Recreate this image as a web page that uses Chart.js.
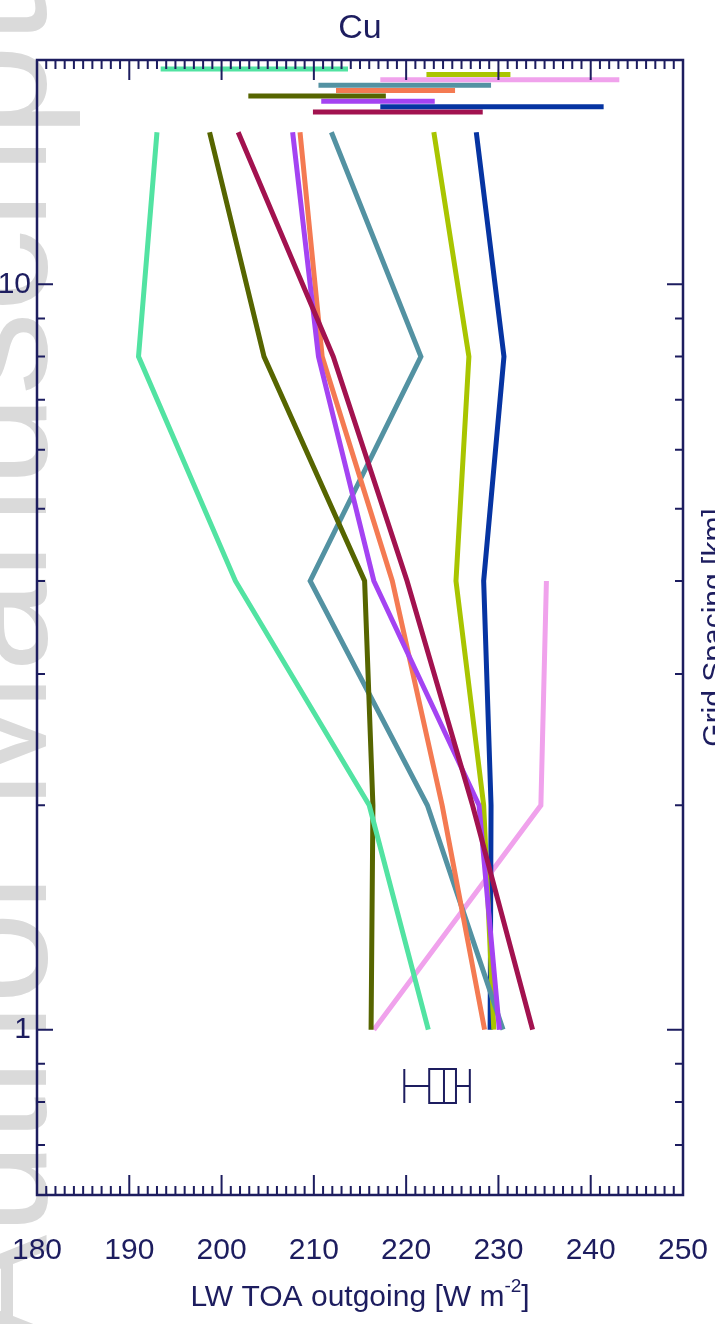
<!DOCTYPE html>
<html>
<head>
<meta charset="utf-8">
<script src="https://cdn.jsdelivr.net/npm/chart.js@4.4.1/dist/chart.umd.min.js"></script>
<style>
  html, body { margin: 0; padding: 0; background: #fff; }
</style>
</head>
<body>
<canvas id="chart" width="715" height="1324"></canvas>
<script>
// grid spacing levels (km) and LW TOA outgoing per model (W m-2)
const gridSpacing = [16, 8, 4, 2, 1];
const modelColors = ['#52e3a2', '#566500', '#a2124f', '#a443f2', '#f47a52', '#5392a2', '#a9c500', '#0634a2', '#f0a2ec'];
const mintVals   = [193.0, 191.0, 201.5, 216.0, 222.4];
const oliveVals  = [198.7, 204.6, 215.5, 216.4, 216.2];
const crimsonVals = [201.8, 212.1, 220.1, 227.2, 233.7];
const purpleVals = [207.7, 210.5, 216.5, 227.9, 230.1];
const orangeVals = [208.5, 210.9, 218.5, 223.9, 228.5];
const tealVals   = [211.9, 221.6, 209.6, 222.3, 230.5];
const limeVals   = [223.0, 226.8, 225.4, 228.4, 229.5];
const blueVals   = [227.6, 230.6, 228.4, 229.2, 229.1];
const pinkVals   = [null, null, 235.2, 234.6, 216.5];

// range bars at the top (low, high), listed top row first
const rangeColors = ['#52e3a2', '#a9c500', '#f0a2ec', '#5392a2', '#f47a52', '#566500', '#a443f2', '#0634a2', '#a2124f'];
const rangeLow  = [193.4, 222.2, 217.2, 210.5, 212.4, 202.9, 210.8, 217.2, 209.9];
const rangeHigh = [213.7, 231.3, 243.1, 229.2, 225.3, 217.8, 223.1, 241.4, 228.3];

// observation box: min, q1, median, q3, max
const obsBox = [219.8, 222.5, 224.1, 225.4, 226.9];
const obsLevel = 0.84;

// axes
const xTickValues = [180, 190, 200, 210, 220, 230, 240, 250];
const yLabelValues = [1, 10];
const yMinorValues = [0.6, 0.7, 0.8, 0.9, 2, 3, 4, 5, 6, 7, 8, 9, 20];

const navy = '#1d1d5f';
const family = "'Liberation Sans', Arial, Helvetica, sans-serif";

const modelVals = [mintVals, oliveVals, crimsonVals, purpleVals, orangeVals, tealVals, limeVals, blueVals, pinkVals];

const datasets = [];

// range rows stacked just under the top of the plot
const rangeTop = 19.45, rangeRatio = 0.9835;
rangeLow.forEach((lo, i) => {
    const lev = rangeTop * Math.pow(rangeRatio, i);
    datasets.push({
        data: [{x: lo, y: lev}, {x: rangeHigh[i], y: lev}],
        showLine: true,
        borderColor: rangeColors[i],
        borderWidth: 5,
        borderCapStyle: 'butt',
        pointRadius: 0
    });
});

modelVals.forEach((vals, i) => {
    datasets.push({
        data: gridSpacing.map((g, j) => vals[j] === null ? null : {x: vals[j], y: g}).filter(p => p),
        showLine: true,
        borderColor: modelColors[i],
        borderWidth: 5,
        borderJoinStyle: 'miter',
        pointRadius: 0
    });
});

// watermark behind everything
const watermark = {
    id: 'watermark',
    beforeDraw(chart) {
        const ctx = chart.ctx;
        ctx.save();
        ctx.fillStyle = '#dadada';
        ctx.font = '166px ' + family;
        ctx.translate(46, 672);
        ctx.rotate(-Math.PI / 2);
        ctx.textAlign = 'center';
        ctx.textBaseline = 'alphabetic';
        ctx.fillText('Author Manuscript', 0, 0);
        ctx.restore();
    }
};

// frame, inward ticks, box plot and texts
const decorations = {
    id: 'decorations',
    afterDatasetsDraw(chart) {
        const {ctx, chartArea: a, scales: {x, y}} = chart;
        ctx.save();
        ctx.strokeStyle = navy;

        // inward ticks on all four sides
        ctx.lineWidth = 2;
        ctx.beginPath();
        for (let v = x.min; v <= x.max; v += 1) {
            const px = x.getPixelForValue(v);
            const len = (v % 10 === 0) ? 20 : 9;
            ctx.moveTo(px, a.bottom); ctx.lineTo(px, a.bottom - len);
            ctx.moveTo(px, a.top); ctx.lineTo(px, a.top + len);
        }
        yLabelValues.concat(yMinorValues).forEach(v => {
            const py = y.getPixelForValue(v);
            const len = yLabelValues.includes(v) ? 16 : 8;
            ctx.moveTo(a.left, py); ctx.lineTo(a.left + len, py);
            ctx.moveTo(a.right, py); ctx.lineTo(a.right - len, py);
        });
        ctx.stroke();

        ctx.lineWidth = 2.5;
        ctx.strokeRect(a.left, a.top, a.right - a.left, a.bottom - a.top);

        // observation box and whiskers
        const by = y.getPixelForValue(obsLevel);
        const h = 17;
        const [mn, q1, md, q3, mx] = obsBox.map(v => x.getPixelForValue(v));
        ctx.lineWidth = 2;
        ctx.beginPath();
        ctx.moveTo(mn, by); ctx.lineTo(q1, by);
        ctx.moveTo(q3, by); ctx.lineTo(mx, by);
        ctx.moveTo(mn, by - h); ctx.lineTo(mn, by + h);
        ctx.moveTo(mx, by - h); ctx.lineTo(mx, by + h);
        ctx.moveTo(md, by - h); ctx.lineTo(md, by + h);
        ctx.rect(q1, by - h, q3 - q1, 2 * h);
        ctx.stroke();

        // title
        ctx.fillStyle = navy;
        ctx.textAlign = 'center';
        ctx.textBaseline = 'alphabetic';
        ctx.font = '34px ' + family;
        ctx.fillText('Cu', (a.left + a.right) / 2, 38);

        // x title with superscript
        const t1 = 'LW TOA outgoing [W m', sup = '-2', t3 = ']';
        ctx.font = '30px ' + family;
        const w1 = ctx.measureText(t1).width, w3 = ctx.measureText(t3).width;
        ctx.font = '19px ' + family;
        const w2 = ctx.measureText(sup).width;
        let sx = (a.left + a.right) / 2 - (w1 + w2 + w3) / 2;
        const base = 1306;
        ctx.textAlign = 'left';
        ctx.font = '30px ' + family;
        ctx.fillText(t1, sx, base);
        ctx.font = '19px ' + family;
        ctx.fillText(sup, sx + w1, base - 14);
        ctx.font = '30px ' + family;
        ctx.fillText(t3, sx + w1 + w2, base);

        // right axis title, mostly outside the page
        ctx.save();
        ctx.translate(723, (a.top + a.bottom) / 2);
        ctx.rotate(-Math.PI / 2);
        ctx.textAlign = 'center';
        ctx.fillText('Grid Spacing [km]', 0, 0);
        ctx.restore();

        ctx.restore();
    }
};

new Chart(document.getElementById('chart'), {
    type: 'scatter',
    data: { datasets: datasets },
    plugins: [watermark, decorations],
    options: {
        responsive: false,
        animation: false,
        layout: { padding: { top: 60, right: 32, left: 0, bottom: 0 } },
        plugins: {
            legend: { display: false },
            tooltip: { enabled: false }
        },
        scales: {
            x: {
                type: 'linear',
                min: 180,
                max: 250,
                afterBuildTicks: s => { s.ticks = xTickValues.map(v => ({value: v})); },
                afterFit: s => { s.height = 129; s.paddingLeft = 0; s.paddingRight = 0; },
                grid: { display: false, drawTicks: false },
                border: { display: false },
                ticks: {
                    color: navy,
                    padding: 38,
                    maxRotation: 0,
                    autoSkip: false,
                    font: { family: family, size: 30 }
                }
            },
            y: {
                type: 'logarithmic',
                min: 0.6,
                max: 20,
                afterBuildTicks: s => { s.ticks = yLabelValues.map(v => ({value: v})); },
                afterFit: s => { s.width = 37; s.paddingTop = 0; s.paddingBottom = 0; },
                grid: { display: false, drawTicks: false },
                border: { display: false },
                ticks: {
                    color: navy,
                    padding: 6,
                    autoSkip: false,
                    callback: v => String(v),
                    font: { family: family, size: 30 }
                }
            }
        }
    }
});
</script>
</body>
</html>
